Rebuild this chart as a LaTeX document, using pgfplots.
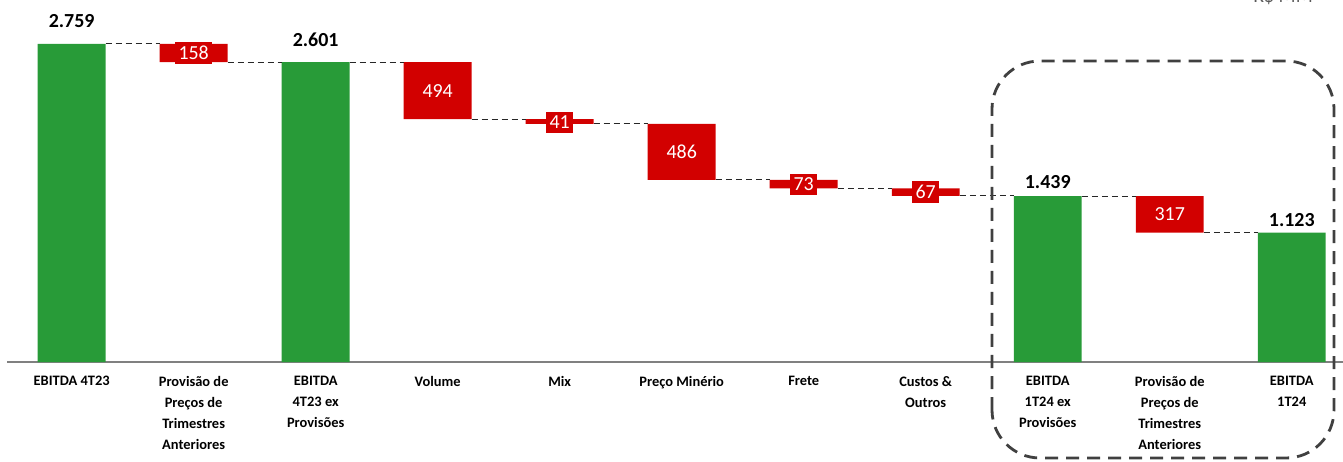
\documentclass[border=0pt]{standalone}
\usepackage{fontspec}
\setmainfont{Carlito}
\usepackage{pgfplots}
\usepackage{pgfplotstable}
\pgfplotsset{compat=1.18}

\definecolor{wfgreen}{RGB}{40,155,56}
\definecolor{wfred}{RGB}{210,0,0}

% base = invisible part, tot = green totals, dlt = red steps
\pgfplotstableread{
x base tot dlt
0 0    2759 0
1 2601 0    158
2 0    2601 0
3 2107 0    494
4 2066 0    41
5 1580 0    486
6 1507 0    73
7 1440 0    67
8 0    1439 0
9 1122 0    317
10 0   1123 0
}\wf

\pgfplotstableread{
x y lab
1 2680 158
3 2354 494
4 2080 41
5 1823 486
6 1543.5 73
7 1473.5 67
9 1280.5 317
}\steplabels

\pgfplotstableread{
x y lab
0 2898 2.759
2 2736 2.601
8 1501 1.439
10 1174 1.123
}\totlabels

\pgfplotsset{wfbase/.style={
  scale only axis, width=1336bp, height=362bp,
  xmin=-0.53, xmax=10.42, ymin=0, ymax=3140,
}}

\begin{document}
\begin{tikzpicture}
\begin{axis}[wfbase,
  ybar stacked, bar width=0.557,
  axis y line=none, axis x line*=bottom,
  x axis line style={-, draw=black!50, line width=1.5bp},
  xtick={0,...,10}, major tick length=0, ytick=\empty,
  xticklabels={{EBITDA 4T23},{Provisão de\\Preços de\\Trimestres\\Anteriores},{EBITDA\\4T23 ex\\Provisões},{Volume},{Mix},{Preço Minério},{Frete},{Custos \&\\Outros},{EBITDA\\1T24 ex\\Provisões},{Provisão de\\Preços de\\Trimestres\\Anteriores},{EBITDA\\1T24}},
  xticklabel style={align=center, anchor=north, yshift=-11bp,
    font=\bfseries\fontsize{14.5}{21}\selectfont},
]
\addplot[draw=none, fill=none] table[x=x, y=base] {\wf};
\addplot[draw=none, fill=wfgreen] table[x=x, y=tot] {\wf};
\addplot[draw=none, fill=wfred] table[x=x, y=dlt] {\wf};
\end{axis}

\begin{axis}[wfbase, hide axis, clip=false]
\addplot[black!85, line width=1bp, dash pattern=on 6bp off 4bp, unbounded coords=jump]
  coordinates {
  (0.279,2759)(0.721,2759)(1,nan)
  (1.279,2601)(1.721,2601)(2,nan)
  (2.279,2601)(2.721,2601)(3,nan)
  (3.279,2107)(3.721,2107)(4,nan)
  (4.279,2066)(4.721,2066)(5,nan)
  (5.279,1580)(5.721,1580)(6,nan)
  (6.279,1507)(6.721,1507)(7,nan)
  (7.279,1440)(7.721,1440)(8,nan)
  (8.279,1439)(8.721,1439)(9,nan)
  (9.279,1122)(9.721,1122)
  };
\addplot[draw=none, mark=none, nodes near coords, point meta=explicit symbolic,
  nodes near coords style={anchor=center, fill=wfred, text=white,
    inner xsep=3.5bp, inner ysep=4bp, font=\fontsize{20}{22}\selectfont}]
  table[x=x, y=y, meta=lab] {\steplabels};
\addplot[draw=none, mark=none, nodes near coords, point meta=explicit symbolic,
  nodes near coords style={anchor=base, text=black, inner sep=0pt,
    font=\bfseries\fontsize{20}{22}\selectfont}]
  table[x=x, y=y, meta=lab] {\totlabels};
\end{axis}

\draw[draw=black!75, line width=2.8bp, dash pattern=on 13bp off 8bp, rounded corners=48bp]
  (985bp,-96bp) rectangle (1327bp,301bp);
\node[anchor=base east, inner sep=0pt, text=black!65, font=\fontsize{20}{22}\selectfont]
  at (1306bp,359bp) {R\$ MM};

\pgfresetboundingbox
\useasboundingbox (-7bp,-100bp) rectangle (1336bp,362bp);
\end{tikzpicture}
\end{document}
